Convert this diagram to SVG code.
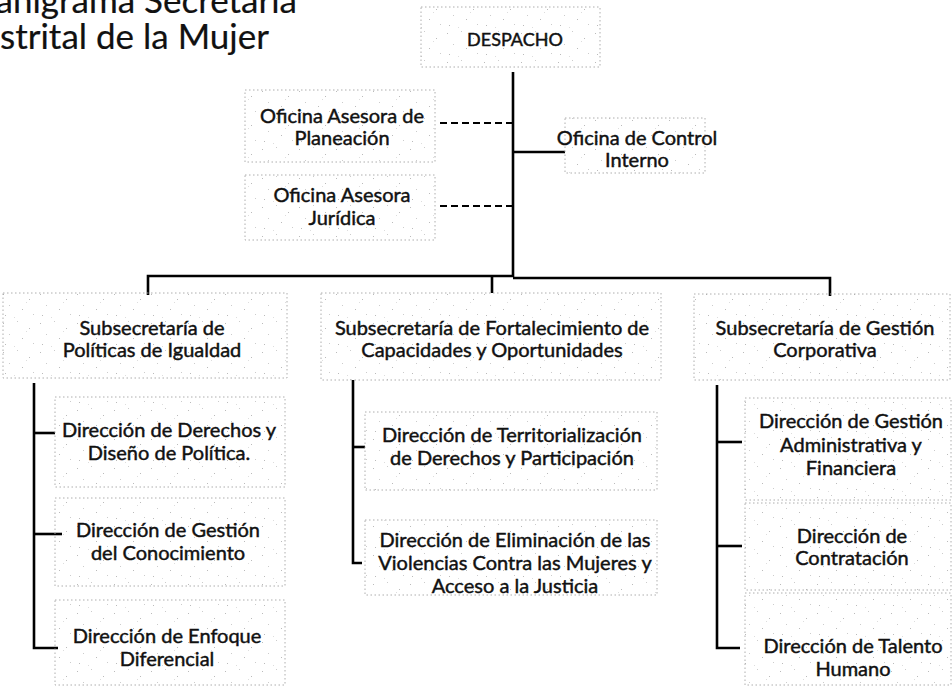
<svg xmlns="http://www.w3.org/2000/svg" width="952" height="689" viewBox="0 0 952 689">
<defs>
<pattern id="noise" width="37" height="29" patternUnits="userSpaceOnUse">
<rect x="3" y="4" width="1" height="1" fill="#bbb"/>
<rect x="17" y="2" width="1" height="1" fill="#ccc"/>
<rect x="29" y="9" width="1" height="1" fill="#bbb"/>
<rect x="9" y="15" width="1" height="1" fill="#ccc"/>
<rect x="22" y="19" width="1" height="1" fill="#bbb"/>
<rect x="33" y="24" width="1" height="1" fill="#ccc"/>
<rect x="5" y="25" width="1" height="1" fill="#bbb"/>
<rect x="14" y="27" width="1" height="1" fill="#ddd"/>
<rect x="26" y="12" width="1" height="1" fill="#ddd"/>
</pattern>
<style>
.box{fill:url(#noise);stroke:#a5a5a5;stroke-width:0.9;stroke-dasharray:1.5 2.5}
text{font-family:Lato,"Liberation Sans",sans-serif;fill:#111;stroke:#111;stroke-width:0.45;text-anchor:middle}
.t{font-size:20px}
.title{font-size:35px;text-anchor:start;stroke-width:0.2}
.ln{stroke:#000;stroke-width:2.6;fill:none}
.dash{stroke:#000;stroke-width:2;stroke-dasharray:7 4;fill:none}
</style>
</defs>
<rect width="952" height="689" fill="#fff"/>
<g id="title">
<text class="title" x="297" y="13" style="text-anchor:end">ganigrama Secretaria</text>
<text class="title" x="0" y="49">strital de la Mujer</text>
</g>
<g id="connectors">
<line class="ln" x1="513" y1="72" x2="513" y2="277"/>
<line class="dash" x1="440" y1="123" x2="513" y2="123"/>
<line class="dash" x1="440" y1="206" x2="513" y2="206"/>
<line class="ln" x1="513" y1="152" x2="565" y2="152"/>
<polyline class="ln" points="148,295 148,276 513,276"/>
<line class="ln" x1="492" y1="276" x2="492" y2="293"/>
<polyline class="ln" points="513,278 830,278 830,296"/>
<polyline class="ln" points="34,383 34,648 58,648"/>
<line class="ln" x1="34" y1="433" x2="55" y2="433"/>
<line class="ln" x1="34" y1="534" x2="62" y2="534"/>
<polyline class="ln" points="353,380 353,563 362,563"/>
<line class="ln" x1="353" y1="447" x2="365" y2="447"/>
<polyline class="ln" points="717,385 717,648 740,648"/>
<line class="ln" x1="717" y1="442" x2="742" y2="442"/>
<line class="ln" x1="717" y1="546" x2="742" y2="546"/>
</g>
<g id="despacho"><rect class="box" x="421" y="7" width="179" height="60"/><text class="t" x="515" y="46" style="font-size:18px">DESPACHO</text></g>
<g id="planeacion"><rect class="box" x="245" y="90" width="190" height="72"/><text class="t" x="342" y="123">Oficina Asesora de</text><text class="t" x="342" y="145">Planeación</text></g>
<g id="juridica"><rect class="box" x="245" y="175" width="190" height="65"/><text class="t" x="342" y="202">Oficina Asesora</text><text class="t" x="342" y="225">Jurídica</text></g>
<g id="control"><rect class="box" x="565" y="118" width="140" height="55"/><text class="t" x="637" y="145">Oficina de Control</text><text class="t" x="637" y="167">Interno</text></g>
<g id="sub1"><rect class="box" x="3" y="293" width="284" height="85"/><text class="t" x="152" y="335">Subsecretaría de</text><text class="t" x="152" y="357">Políticas de Igualdad</text></g>
<g id="sub2"><rect class="box" x="321" y="293" width="340" height="87"/><text class="t" x="492" y="335">Subsecretaría de Fortalecimiento de</text><text class="t" x="492" y="357">Capacidades y Oportunidades</text></g>
<g id="sub3"><rect class="box" x="694" y="294" width="256" height="86"/><text class="t" x="825" y="335">Subsecretaría de Gestión</text><text class="t" x="825" y="357">Corporativa</text></g>
<g id="d1"><rect class="box" x="55" y="397" width="230" height="90"/><text class="t" x="169" y="437">Dirección de Derechos y</text><text class="t" x="169" y="460">Diseño de Política.</text></g>
<g id="d2"><rect class="box" x="55" y="498" width="230" height="88"/><text class="t" x="168" y="537">Dirección de Gestión</text><text class="t" x="168" y="560">del Conocimiento</text></g>
<g id="d3"><rect class="box" x="55" y="600" width="230" height="85"/><text class="t" x="167" y="643">Dirección de Enfoque</text><text class="t" x="167" y="666">Diferencial</text></g>
<g id="m1"><rect class="box" x="365" y="412" width="292" height="78"/><text class="t" x="512" y="442">Dirección de Territorialización</text><text class="t" x="512" y="465">de Derechos y Participación</text></g>
<g id="m2"><rect class="box" x="365" y="520" width="292" height="75"/><text class="t" x="515" y="547">Dirección de Eliminación de las</text><text class="t" x="515" y="570">Violencias Contra las Mujeres y</text><text class="t" x="515" y="593">Acceso a la Justicia</text></g>
<g id="r1"><rect class="box" x="745" y="398" width="206" height="102"/><text class="t" x="851" y="428">Dirección de Gestión</text><text class="t" x="851" y="452">Administrativa y</text><text class="t" x="851" y="475">Financiera</text></g>
<g id="r2"><rect class="box" x="745" y="503" width="206" height="87"/><text class="t" x="852" y="543">Dirección de</text><text class="t" x="852" y="565">Contratación</text></g>
<g id="r3"><rect class="box" x="745" y="593" width="206" height="92"/><text class="t" x="853" y="653">Dirección de Talento</text><text class="t" x="853" y="676">Humano</text></g>
</svg>
